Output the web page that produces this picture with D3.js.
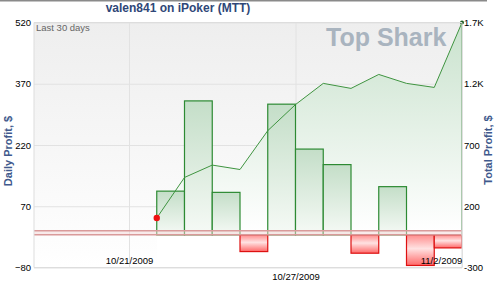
<!DOCTYPE html>
<html>
<head>
<meta charset="utf-8">
<script src="https://cdn.jsdelivr.net/npm/d3@7"></script>
<style>
  body { margin: 0; background: #fff; }
  svg { display: block; font-family: Arial, "Liberation Sans", sans-serif; }
</style>
</head>
<body>
<div class="chart"></div>
<script>
// data
var days = ["2009-10-22", "2009-10-23", "2009-10-24", "2009-10-25", "2009-10-26", "2009-10-27",
            "2009-10-28", "2009-10-29", "2009-10-30", "2009-10-31", "2009-11-01", "2009-11-02"];
var dailyProfit = [107, 328, 104, -41, 320, 210, 172, -45, 118, -75, -32, 529];
var totalProfit = [104, 435, 536, 500, 817, 1030, 1203, 1162, 1276, 1203, 1170, 1700];
var leftTicks = [520, 370, 220, 70, -80];
var rightTicks = [1700, 1200, 700, 200, -300];
var rightTickLabels = ["1.7K", "1.2K", "700", "200", "-300"];
var dateTicks = ["2009-10-21", "2009-10-27", "2009-11-02"];
var dateTickLabels = ["10/21/2009", "10/27/2009", "11/2/2009"];

var W = 496, H = 300;
var margin = {top: 22.5, left: 34, right: 34, bottom: 32.5},
    width = W - margin.left - margin.right,
    height = H - margin.top - margin.bottom;

var parse = d3.utcParse("%Y-%m-%d");
var DAY = 864e5;
var dates = days.map(parse);

// x: 10/21 sits at 95px from the left edge, 11/2 at the right edge
var xEnd = parse("2009-11-02");
var pxPerDay = (width - 95) / 12;
var xStart = new Date(xEnd.getTime() - width / pxPerDay * DAY);
var x = d3.scaleUtc().domain([xStart, xEnd]).range([0, width]);
var yL = d3.scaleLinear().domain([-80, 520]).range([height, 0]);
var yR = d3.scaleLinear().domain([-300, 1700]).range([height, 0]);

var svg = d3.select(".chart").append("svg")
    .attr("width", W).attr("height", H);

var defs = svg.append("defs");
function grad(id, stops) {
    var g = defs.append("linearGradient").attr("id", id)
        .attr("x1", 0).attr("y1", 0).attr("x2", 0).attr("y2", 1);
    stops.forEach(function (s) {
        g.append("stop").attr("offset", s[0]).attr("stop-color", s[1]);
    });
}
grad("bg", [[0, "#eeeeee"], [1, "#ffffff"]]);
grad("area", [[0, "#c9e2cd"], [0.85, "#ffffff"]]);
grad("gbar", [[0, "#c4dec8"], [1, "#f6faf6"]]);
grad("rbar", [[0, "#ff8c8c"], [0.45, "#ffe2e2"], [1, "#ff6868"]]);
defs.append("clipPath").attr("id", "clip")
    .append("rect").attr("width", width).attr("height", height);

// frame line at the very top
svg.append("line")
    .attr("x1", 0).attr("x2", 487).attr("y1", 0.5).attr("y2", 0.5)
    .attr("stroke", "#8a8a8a").attr("stroke-width", 2);

// title
svg.append("text")
    .attr("x", 178).attr("y", 12)
    .attr("text-anchor", "middle")
    .style("font-size", "12px").style("font-weight", "bold")
    .attr("fill", "#2f4778")
    .text("valen841 on iPoker (MTT)");

var g = svg.append("g")
    .attr("transform", "translate(" + margin.left + "," + margin.top + ")");

// plot background
g.append("rect").attr("width", width).attr("height", height).attr("fill", "url(#bg)");

// horizontal gridlines
g.append("g")
    .call(d3.axisLeft(yL).tickValues(leftTicks).tickSize(-width).tickFormat(""))
    .call(function (s) {
        s.select(".domain").remove();
        s.selectAll("line").attr("stroke", "#e2e2e2");
    });

// vertical gridlines
g.append("g")
    .call(d3.axisBottom(x).tickValues(dateTicks.map(parse)).tickSize(height).tickFormat(""))
    .call(function (s) {
        s.select(".domain").remove();
        s.selectAll("line").attr("stroke", "#e2e2e2");
    });

// "Top Shark" watermark
g.append("text")
    .attr("x", 292).attr("y", 23)
    .style("font-size", "25px").style("font-weight", "bold")
    .attr("fill", "#a9b4bf")
    .text("Top Shark");

var plot = g.append("g").attr("clip-path", "url(#clip)");

// area under total profit
var area = d3.area()
    .x(function (d, i) { return x(dates[i]); })
    .y0(height)
    .y1(function (d) { return yR(d); });
plot.append("path")
    .datum(totalProfit)
    .attr("d", area)
    .attr("fill", "url(#area)");

// daily bars
plot.selectAll(".bar")
    .data(dailyProfit)
    .enter().append("rect")
    .attr("class", "bar")
    .attr("x", function (d, i) { return x(dates[i]); })
    .attr("width", function (d, i) { return x(new Date(dates[i].getTime() + DAY)) - x(dates[i]); })
    .attr("y", function (d) { return yL(Math.max(0, d)); })
    .attr("height", function (d) { return Math.abs(yL(d) - yL(0)); })
    .attr("fill", function (d) { return d >= 0 ? "url(#gbar)" : "url(#rbar)"; })
    .attr("stroke", function (d) { return d >= 0 ? "#2d8a33" : "#dd1111"; })
    .attr("stroke-width", 1.2);

// zero lines for both axes
g.append("rect")
    .attr("x", 0).attr("width", width)
    .attr("y", yR(0)).attr("height", yL(0) - yR(0))
    .attr("fill", "#f3d8d8").attr("opacity", 0.5);
[yR(0), yL(0)].forEach(function (yy) {
    g.append("line")
        .attr("x1", 0).attr("x2", width)
        .attr("y1", yy).attr("y2", yy)
        .attr("stroke", "#d99a9a").attr("stroke-width", 1.5);
});

// total profit line
var line = d3.line()
    .x(function (d, i) { return x(dates[i]); })
    .y(function (d) { return yR(d); });
g.append("path")
    .datum(totalProfit)
    .attr("d", line)
    .attr("fill", "none")
    .attr("stroke", "#3f9440")
    .attr("stroke-width", 1);

g.append("circle")
    .attr("cx", x(dates[0])).attr("cy", yR(totalProfit[0]))
    .attr("r", 3.2).attr("fill", "#ee1111");
g.append("circle")
    .attr("cx", x(dates[dates.length - 1])).attr("cy", yR(totalProfit[totalProfit.length - 1]))
    .attr("r", 2).attr("fill", "#1d5e22");

// plot border
g.append("path")
    .attr("d", "M0," + height + "V0H" + width + "V" + height + "H0")
    .attr("fill", "none").attr("stroke", "#dddddd");

// "Last 30 days"
g.append("text")
    .attr("x", 2).attr("y", 8)
    .style("font-size", "9.5px")
    .attr("fill", "#666")
    .text("Last 30 days");

// left axis
g.append("g")
    .call(d3.axisLeft(yL).tickValues(leftTicks).tickSize(0).tickPadding(3))
    .call(function (s) {
        s.select(".domain").remove();
        s.selectAll("text").style("font-size", "9.5px").style("font-family", "Arial, sans-serif").attr("fill", "#000");
    });

// right axis
g.append("g")
    .attr("transform", "translate(" + width + ",0)")
    .call(d3.axisRight(yR).tickValues(rightTicks).tickSize(0).tickPadding(2)
        .tickFormat(function (d, i) { return rightTickLabels[i]; }))
    .call(function (s) {
        s.select(".domain").remove();
        s.selectAll("text").style("font-size", "9.5px").style("font-family", "Arial, sans-serif").attr("fill", "#000");
    });

// bottom date labels, staggered
g.append("g")
    .attr("transform", "translate(0," + height + ")")
    .call(d3.axisBottom(x).tickValues(dateTicks.map(parse)).tickSize(0)
        .tickFormat(function (d, i) { return dateTickLabels[i]; }))
    .call(function (s) {
        s.select(".domain").remove();
        s.selectAll("text")
            .style("font-size", "9.5px").style("font-family", "Arial, sans-serif").attr("fill", "#000")
            .attr("y", function (d, i) { return i % 2 ? 6 : -10; })
            .attr("dx", function (d, i) { return i === 2 ? -21 : 0; });
    });

// axis titles
svg.append("text")
    .attr("transform", "translate(12,151) rotate(-90)")
    .attr("text-anchor", "middle")
    .style("font-size", "11px").style("font-weight", "bold")
    .attr("fill", "#40598c")
    .text("Daily Profit, $");
svg.append("text")
    .attr("transform", "translate(492,150) rotate(-90)")
    .attr("text-anchor", "middle")
    .style("font-size", "11px").style("font-weight", "bold")
    .attr("fill", "#40598c")
    .text("Total Profit, $");
</script>
</body>
</html>
